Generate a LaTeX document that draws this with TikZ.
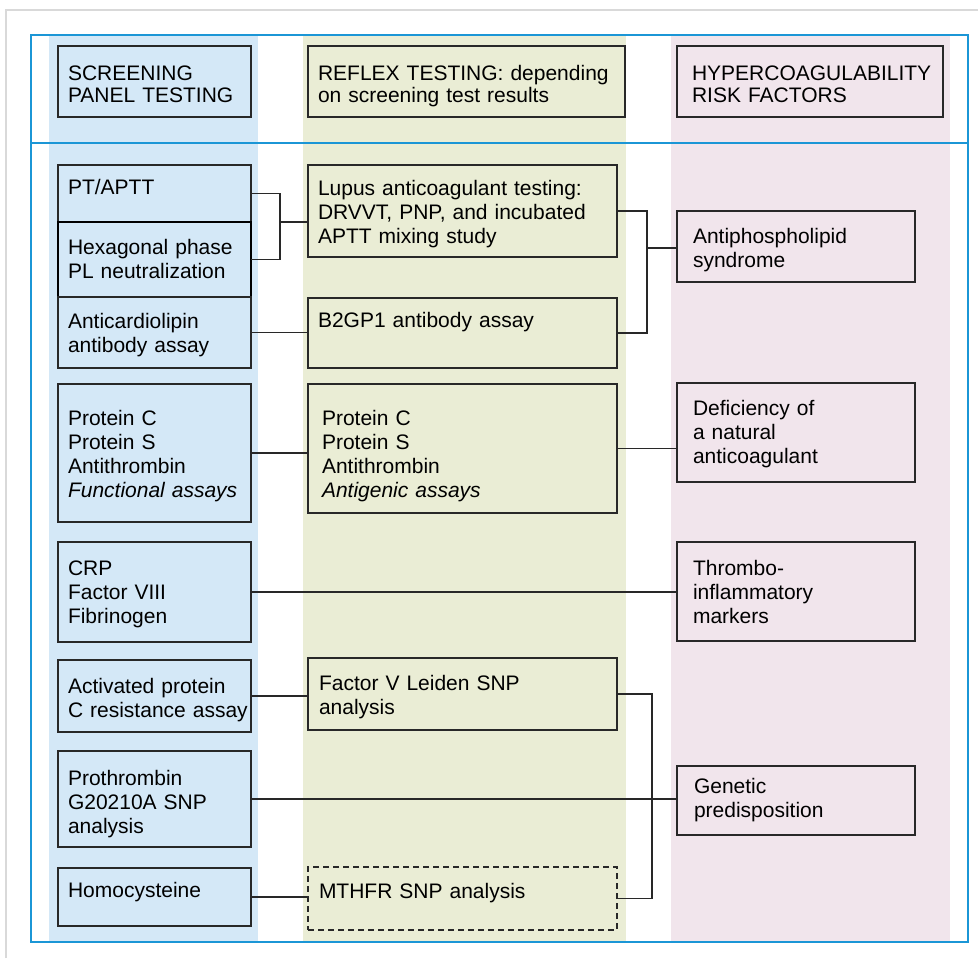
\documentclass[tikz,border=0pt]{standalone}
\usepackage{fontspec}
\setmainfont{Liberation Sans}
\newlength\px
\setlength\px{0.75pt}
\definecolor{colblue}{RGB}{212,232,247}
\definecolor{colgreen}{RGB}{234,237,213}
\definecolor{colpink}{RGB}{241,229,236}
\definecolor{framebl}{RGB}{27,150,214}
\definecolor{boxline}{RGB}{40,40,40}
\begin{document}
\begin{tikzpicture}[x=0.75pt, y=-0.75pt,
    box/.style={draw=boxline, line width=1.1pt, rectangle, anchor=north west, inner ysep=0pt, outer sep=0pt,
        align=left, font=\fontsize{15.75}{18}\selectfont},
    head/.style={box, font=\fontsize{15.75}{17}\selectfont},
    sz/.style n args={4}{inner xsep=#2\px, text width=(#1-2*#2)*\px, text height=#3\px, text depth=(#4-#3)*\px},
    link/.style={draw=boxline, line width=1pt}]
        \useasboundingbox (0,0) rectangle (978,958);
        \draw[black!15, line width=1.5pt] (6,958) -- (6,10) -- (978,10);
        \fill[colblue] (49,35) rectangle (258,942);
        \fill[colgreen] (303,35) rectangle (626,942);
        \fill[colpink] (671,35) rectangle (950,942);
        \draw[framebl, line width=1pt] (31,35) rectangle (968,942);
        \draw[framebl, line width=1pt] (31,143) -- (968,143);

        \node[head, sz={193}{10}{34}{71}] (head1) at (58,46) {SCREENING\\PANEL TESTING};
        \node[head, sz={317}{10}{34}{71}] (head2) at (308,46) {\mbox{REFLEX TESTING: depending}\\on screening test results};
        \node[head, sz={266}{15}{34}{71}] (head3) at (677,46) {HYPERCOAGULABILITY\\RISK FACTORS};

        \node[box, sz={193}{10}{29}{57}] (pt) at (58,165) {PT/APTT};
        \node[box, sz={193}{10}{32}{75}, draw=black, line width=1.5pt] (hex) at (58,222) {Hexagonal phase\\PL neutralization};
        \node[box, sz={193}{10}{31}{71}] (acl) at (58,297) {Anticardiolipin\\antibody assay};
        \node[box, sz={193}{10}{41}{138}] (protc1) at (58,384) {Protein C\\Protein S\\Antithrombin\\\emph{Functional assays}};
        \node[box, sz={193}{10}{33}{100}] (crp) at (58,542) {CRP\\Factor VIII\\Fibrinogen};
        \node[box, sz={193}{10}{33}{72}] (apc) at (58,660) {Activated protein\\\mbox{C resistance assay}};
        \node[box, sz={193}{10}{34}{96}] (prothr) at (58,751) {Prothrombin\\G20210A SNP\\analysis};
        \node[box, sz={193}{10}{29}{58}] (homocys) at (58,868) {Homocysteine};

        \node[box, sz={309}{10}{30}{92}] (lupus) at (308,165) {Lupus anticoagulant testing:\\DRVVT, PNP, and incubated\\APTT mixing study};
        \node[box, sz={309}{10}{29}{70}] (b2gp1) at (308,298) {B2GP1 antibody assay};
        \node[box, sz={309}{14}{41}{129}] (protc2) at (308,384) {Protein C\\Protein S\\Antithrombin\\\emph{Antigenic assays}};
        \node[box, sz={309}{11}{32}{72}] (fvl) at (308,658) {Factor V Leiden SNP\\analysis};
        \node[box, sz={309}{11}{31}{63}, dash pattern=on 4.5pt off 3pt] (mthfr) at (308,867) {MTHFR SNP analysis};

        \node[box, sz={238}{16}{32}{71}] (aps) at (677,211) {Antiphospholipid\\syndrome};
        \node[box, sz={238}{16}{32}{99}] (defic) at (677,383) {Deficiency of\\a natural\\anticoagulant};
        \node[box, sz={238}{16}{33}{99}] (thromb) at (677,542) {Thrombo-\\inflammatory\\markers};
        \node[box, sz={238}{17}{27}{69}] (genet) at (677,766) {Genetic\\predisposition};

        \coordinate (j1) at (280,222);
        \draw[link] (pt.east) -| (j1) |- (hex.east);
        \draw[link] (j1) -- (j1 -| lupus.west);
        \coordinate (j2) at (647,248);
        \draw[link] (lupus.east) -| (j2) |- (b2gp1.east);
        \draw[link] (j2) -- (j2 -| aps.west);
        \draw[link] (acl.east) -- (acl.east -| b2gp1.west);
        \draw[link] (protc1.east) -- (protc1.east -| protc2.west);
        \draw[link] (protc2.east) -- (protc2.east -| defic.west);
        \draw[link] (crp.east) -- (crp.east -| thromb.west);
        \draw[link] (apc.east) -- (apc.east -| fvl.west);
        \coordinate (j3) at (652,800);
        \draw[link] (fvl.east) -| (j3) |- (mthfr.east);
        \draw[link] (prothr.east) -- (prothr.east -| genet.west);
        \draw[link] (homocys.east) -- (homocys.east -| mthfr.west);
\end{tikzpicture}
\end{document}
